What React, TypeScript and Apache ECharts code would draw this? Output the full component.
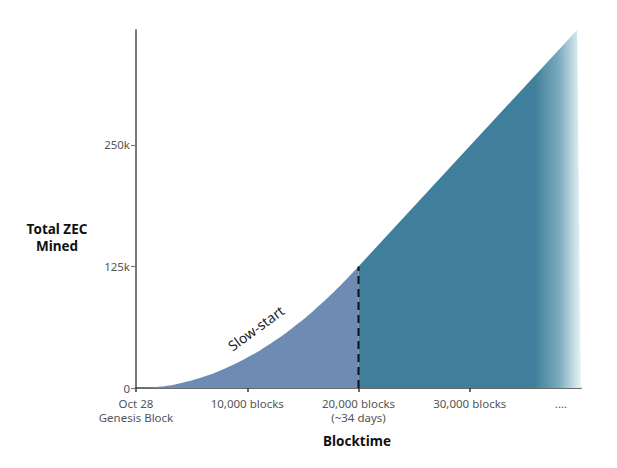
import React, { useEffect, useRef } from "react";
import * as echarts from "echarts";

// Slow-start phase (blocks, total ZEC mined)
const slowBlocks = [0, 2000, 4000, 6000, 8000, 10000, 12000, 14000, 16000, 18000, 20000];
const slowTotals = [0, 1250, 5000, 11250, 20000, 31250, 45000, 61250, 80000, 101250, 125000];

// Steady phase
const steadyBlocks = [20000, 39650, 40000];
const steadyTotals = [125000, 368000, 0];

// Axis ticks / labels
const xTickValues = [0, 10000, 20000, 30000];
const xLabelValues = [0, 10000, 20000, 30000, 38200];
const xLabelTexts = ["Oct 28\nGenesis Block", "10,000 blocks", "20,000 blocks\n(~34 days)", "30,000 blocks", "...."];
const yTickValues = [0, 125000, 250000];
const yLabelTexts = ["0", "125k", "250k"];

const FONT = "Noto Sans";

export default function App() {
  const ref = useRef<HTMLDivElement>(null);
  useEffect(() => {
    if (!ref.current) return;
    const chart = echarts.init(ref.current, null, { renderer: "svg" });
    const slowData = slowBlocks.map((b, i) => [b, slowTotals[i]]);
    const steadyData = steadyBlocks.map((b, i) => [b, steadyTotals[i]]);
    chart.setOption({
      animation: false,
      grid: { left: 136, right: 36, top: 30, bottom: 80 },
      xAxis: {
        type: "value",
        min: 0,
        max: 40000,
        splitLine: { show: false },
        axisLine: { lineStyle: { color: "#3a3a3a", width: 1.5 } },
        axisTick: { show: true, length: 4, customValues: xTickValues, lineStyle: { color: "#3a3a3a", width: 1.5 } },
        axisLabel: {
          customValues: xLabelValues,
          color: "#555",
          fontFamily: FONT,
          fontSize: 11.5,
          lineHeight: 14,
          margin: 8,
          formatter: (v: number) => {
            const i = xLabelValues.indexOf(v);
            return i >= 0 ? xLabelTexts[i] : "";
          },
        },
      },
      yAxis: {
        type: "value",
        min: 0,
        max: 368000,
        splitLine: { show: false },
        axisLine: { show: true, lineStyle: { color: "#7a7a7a", width: 2 } },
        axisTick: { show: true, length: 5, customValues: yTickValues, lineStyle: { color: "#7a7a7a", width: 1.2 } },
        axisLabel: {
          customValues: yTickValues,
          color: "#555",
          fontFamily: FONT,
          fontSize: 11.5,
          margin: 6,
          formatter: (v: number) => {
            const i = yTickValues.indexOf(v);
            return i >= 0 ? yLabelTexts[i] : "";
          },
        },
      },
      series: [
        {
          type: "line",
          data: slowData,
          smooth: true,
          symbol: "none",
          lineStyle: { width: 0 },
          areaStyle: { color: "#6e8bb3", opacity: 1 },
          z: 2,
        },
        {
          type: "line",
          data: steadyData,
          symbol: "none",
          lineStyle: { width: 0 },
          areaStyle: {
            opacity: 1,
            color: new echarts.graphic.LinearGradient(0, 0, 1, 0, [
              { offset: 0, color: "#3f7f9b" },
              { offset: 0.79, color: "#3f7f9b" },
              { offset: 0.9, color: "#7aaabd" },
              { offset: 1, color: "#e8f4f7" },
            ]),
          },
          z: 2,
        },
        {
          type: "line",
          data: [[20000, 0], [20000, 125000]],
          symbol: "none",
          lineStyle: { color: "#111", width: 2, type: [8, 5] },
          z: 5,
        },
      ],
      graphic: [
        {
          type: "text",
          x: 57,
          y: 237,
          style: {
            text: "Total ZEC\nMined",
            fontFamily: FONT,
            fontWeight: "bold",
            fontSize: 13.5,
            lineHeight: 17,
            fill: "#111",
            align: "center",
            verticalAlign: "middle",
          },
        },
        {
          type: "text",
          x: 357,
          y: 441,
          style: {
            text: "Blocktime",
            fontFamily: FONT,
            fontWeight: "bold",
            fontSize: 13.5,
            fill: "#111",
            align: "center",
            verticalAlign: "middle",
          },
        },
        {
          type: "text",
          x: 256,
          y: 328,
          rotation: (36 * Math.PI) / 180,
          style: {
            text: "Slow-start",
            fontFamily: FONT,
            fontSize: 14,
            fill: "#222",
            align: "center",
            verticalAlign: "middle",
          },
        },
      ],
    });
    return () => chart.dispose();
  }, []);
  return <div ref={ref} style={{ width: 617, height: 468, marginLeft: -8, marginTop: -8 }} />;
}
